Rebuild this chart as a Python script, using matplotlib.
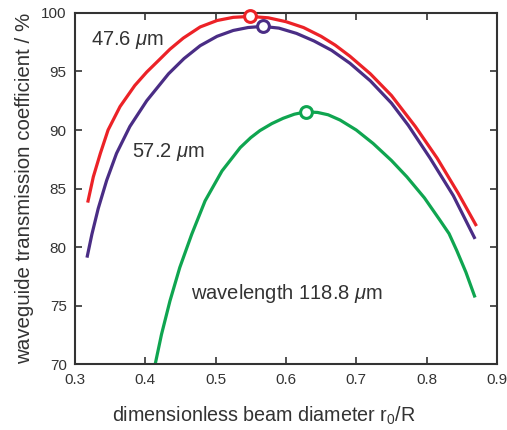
import matplotlib
matplotlib.use("Agg")
import matplotlib.pyplot as plt

plt.rcParams['font.family'] = ['Liberation Sans', 'DejaVu Sans']
plt.rcParams['mathtext.fontset'] = 'custom'
plt.rcParams['mathtext.rm'] = 'Liberation Sans'
plt.rcParams['mathtext.it'] = 'Liberation Sans:italic'

# curves (x = r0/R, y = transmission %)
x_476 = [0.318, 0.326, 0.336, 0.347, 0.364, 0.385, 0.402, 0.419, 0.435, 0.454, 0.478, 0.502,
         0.525, 0.549, 0.575, 0.60, 0.625, 0.65, 0.67, 0.691, 0.72, 0.75, 0.784, 0.815,
         0.845, 0.871]
y_476 = [83.8, 86.0, 88.0, 90.0, 92.0, 93.8, 94.95, 95.95, 96.9, 97.85, 98.8, 99.35,
         99.62, 99.7, 99.58, 99.25, 98.75, 98.0, 97.25, 96.3, 94.8, 92.95, 90.3, 87.6,
         84.6, 81.8]

x_572 = [0.317, 0.324, 0.333, 0.345, 0.359, 0.378, 0.402, 0.433, 0.455, 0.478, 0.502, 0.525,
         0.546, 0.567, 0.59, 0.615, 0.64, 0.665, 0.691, 0.72, 0.75, 0.774, 0.805, 0.838,
         0.869]
y_572 = [79.1, 81.1, 83.3, 85.7, 88.0, 90.3, 92.5, 94.8, 96.1, 97.2, 98.0, 98.5,
         98.75, 98.85, 98.7, 98.25, 97.6, 96.8, 95.7, 94.2, 92.3, 90.4, 87.6, 84.4,
         80.7]

x_1188 = [0.414, 0.423, 0.435, 0.449, 0.466, 0.485, 0.509, 0.535, 0.55, 0.563, 0.58, 0.596,
          0.612, 0.628, 0.645, 0.66, 0.677, 0.70, 0.724, 0.75, 0.772, 0.797, 0.819, 0.832,
          0.843, 0.856, 0.869]
y_1188 = [70.0, 72.55, 75.4, 78.26, 81.1, 83.95, 86.5, 88.5, 89.35, 89.95, 90.55, 91.0,
          91.35, 91.55, 91.5, 91.3, 90.85, 90.0, 88.85, 87.4, 86.0, 84.2, 82.3, 81.15,
          79.7, 77.85, 75.7]

# maxima (open circles)
peak_x = [0.549, 0.567, 0.628]
peak_y = [99.7, 98.87, 91.58]

colores = ['#ec2227', '#4a2d85', '#0fa550']

fig = plt.figure(figsize=(5.07, 4.30), dpi=100)
ax = fig.add_axes([0.148, 0.153, 0.832, 0.817])

for xs, ys, c in zip([x_476, x_572, x_1188], [y_476, y_572, y_1188], colores):
    ax.plot(xs, ys, color=c, lw=2.3, solid_capstyle='butt', solid_joinstyle='round')
for px, py, c in zip(peak_x, peak_y, colores):
    ax.plot(px, py, 'o', ms=8.5, mfc='white', mec=c, mew=2.2, clip_on=False, zorder=5)

ax.set_xlim(0.3, 0.9)
ax.set_ylim(70, 100)
ax.set_xticks([0.3, 0.4, 0.5, 0.6, 0.7, 0.8, 0.9])
ax.set_xticklabels(['0.3', '0.4', '0.5', '0.6', '0.7', '0.8', '0.9'])
ax.set_yticks([70, 75, 80, 85, 90, 95, 100])

gris = '#333333'
for s in ax.spines.values():
    s.set_color(gris)
    s.set_linewidth(1.5)
ax.tick_params(direction='in', top=True, right=True, length=5, width=1.2,
               color=gris, labelcolor=gris, labelsize=11, pad=6)

ax.set_xlabel('dimensionless beam diameter r$_0$/R', fontsize=14.2, color=gris)
ax.xaxis.set_label_coords(0.448, -0.114)
ax.set_ylabel('waveguide transmission coefficient / %', fontsize=14.8, color=gris, labelpad=5)

ax.text(0.323, 97.7, r'47.6 $\mu$m', fontsize=14.5, color=gris, va='center')
ax.text(0.381, 88.1, r'57.2 $\mu$m', fontsize=14.5, color=gris, va='center')
ax.text(0.465, 76.0, r'wavelength 118.8 $\mu$m', fontsize=14.5, color=gris, va='center')

fig.savefig('out.png', dpi=100)
